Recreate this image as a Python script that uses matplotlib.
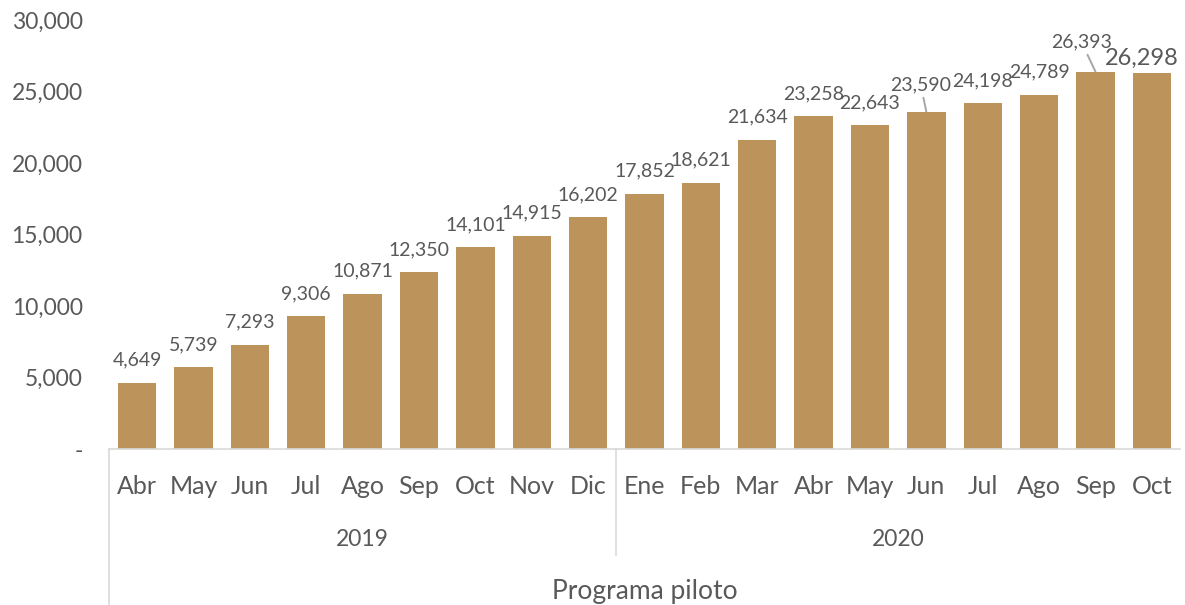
import matplotlib
matplotlib.use("Agg")
import matplotlib.pyplot as plt
import matplotlib.transforms as mtransforms

months = ["Abr", "May", "Jun", "Jul", "Ago", "Sep", "Oct", "Nov", "Dic",
          "Ene", "Feb", "Mar", "Abr", "May", "Jun", "Jul", "Ago", "Sep", "Oct"]
values = [4649, 5739, 7293, 9306, 10871, 12350, 14101, 14915, 16202,
          17852, 18621, 21634, 23258, 22643, 23590, 24198, 24789, 26393, 26298]
years = ["2019", "2020"]
year_counts = [9, 10]
group_label = "Programa piloto"
yticks = [0, 5000, 10000, 15000, 20000, 25000, 30000]

BAR = "#BC945B"
TXT = "#595959"
LINE = "#D9D9D9"

plt.rcParams['font.family'] = ['Lato', 'DejaVu Sans']

fig = plt.figure(figsize=(11.85, 6.05), dpi=100)
ax = fig.add_axes([109/1185, (605-449)/605, (1180-109)/1185, (449-20)/605])

x = list(range(len(values)))
ax.bar(x, values, width=0.68, color=BAR, zorder=2)
ax.set_xlim(-0.5, len(values) - 0.5)
ax.set_ylim(0, 30000)
ax.set_yticks(yticks)
ax.set_yticklabels(["-" if v == 0 else f"{v:,}" for v in yticks], color=TXT, fontsize=16.5)
ax.tick_params(axis='y', length=0, pad=19)
ax.set_xticks([])
for s in ["top", "right", "left"]:
    ax.spines[s].set_visible(False)
ax.spines["bottom"].set_color(LINE)
ax.spines["bottom"].set_linewidth(1.2)

# data labels
lead = dict(arrowstyle="-", color="#A6A6A6", lw=1.4, shrinkA=1, shrinkB=0)
for i, v in enumerate(values):
    lbl = f"{v:,}"
    if i == len(values) - 1:
        ax.annotate(lbl, (i, v), xytext=(-7, 3), textcoords="offset points",
                    ha="center", va="bottom", fontsize=17, color=TXT)
    elif i == 14:
        ax.annotate(lbl, (i, v), xytext=(-4, 13), textcoords="offset points",
                    ha="center", va="bottom", fontsize=14, color=TXT,
                    arrowprops=lead)
    elif i == 17:
        ax.annotate(lbl, (i, v), xytext=(-10, 15), textcoords="offset points",
                    ha="center", va="bottom", fontsize=14, color=TXT,
                    arrowprops=lead)
    else:
        ax.annotate(lbl, (i, v), xytext=(0, 10), textcoords="offset points",
                    ha="center", va="bottom", fontsize=14, color=TXT)

# hierarchical x axis
trans = mtransforms.blended_transform_factory(ax.transData, ax.transAxes)
ph = 449 - 20
def ay(py):
    return -(py - 449) / ph

for i, m in enumerate(months):
    ax.text(i, ay(487), m, transform=trans, ha="center", va="center",
            fontsize=18, color=TXT)

start = 0
for yr, n in zip(years, year_counts):
    center = start + (n - 1) / 2
    ax.text(center, ay(540), yr, transform=trans, ha="center", va="center",
            fontsize=16.5, color=TXT)
    start += n
    if start < len(values):
        ax.plot([start - 0.5, start - 0.5], [0, ay(555)], transform=trans,
                color=LINE, lw=1.2, clip_on=False)

ax.plot([-0.5, -0.5], [0, ay(605)], transform=trans, color=LINE, lw=1.2, clip_on=False)
ax.text((len(values) - 1) / 2, ay(592), group_label, transform=trans, ha="center",
        va="center", fontsize=19, color=TXT)

fig.savefig("out.png", dpi=100)
